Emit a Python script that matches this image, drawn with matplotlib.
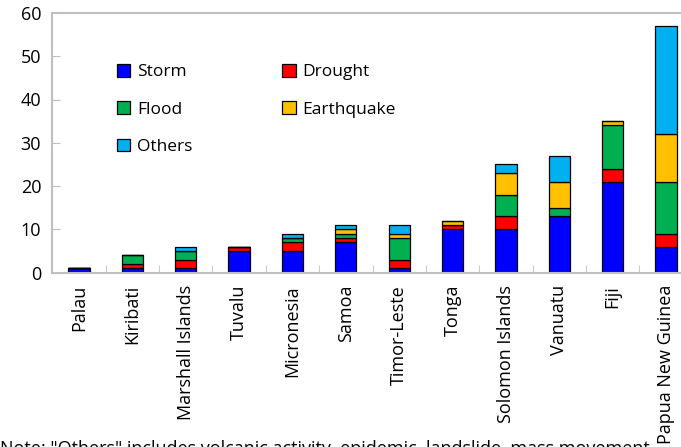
import matplotlib
matplotlib.use("Agg")
import matplotlib.pyplot as plt
import numpy as np

plt.rcParams['font.family'] = ['Open Sans', 'DejaVu Sans']

countries = ["Palau", "Kiribati", "Marshall Islands", "Tuvalu", "Micronesia", "Samoa",
             "Timor-Leste", "Tonga", "Solomon Islands", "Vanuatu", "Fiji", "Papua New Guinea"]
storm      = [1, 1, 1, 5, 5, 7, 1, 10, 10, 13, 21, 6]
drought    = [0, 1, 2, 1, 2, 1, 2, 1, 3, 0, 3, 3]
flood      = [0, 2, 2, 0, 1, 1, 5, 0, 5, 2, 10, 12]
earthquake = [0, 0, 0, 0, 0, 1, 1, 1, 5, 6, 1, 11]
others     = [0, 0, 1, 0, 1, 1, 2, 0, 2, 6, 0, 25]
yticks = [0, 10, 20, 30, 40, 50, 60]
note = 'Note: "Others" includes volcanic activity, epidemic, landslide, mass movement.'

series = [("Storm", storm, "#0000FF"), ("Drought", drought, "#FF0000"),
          ("Flood", flood, "#00B050"), ("Earthquake", earthquake, "#FFC000"),
          ("Others", others, "#00B0F0")]

fig = plt.figure(figsize=(6.81, 4.47), dpi=100)
W, H = 681, 447
left, right, top, bottom = 52.3, 692.7, 13, 272.5
ax = fig.add_axes([left / W, 1 - bottom / H, (right - left) / W, (bottom - top) / H])

x = np.arange(len(countries))
base = np.zeros(len(countries))
handles = {}
for name, vals, col in series:
    v = np.array(vals, dtype=float)
    b = ax.bar(x, v, 0.4, bottom=base, color=col, edgecolor="black", linewidth=0.9, label=name)
    handles[name] = b
    base += v

ax.set_xlim(-0.5, len(countries) - 0.5)
ax.set_ylim(0, 60)
ax.set_yticks(yticks)
ax.set_xticks(x)
ax.set_xticklabels(countries, rotation=90, fontsize=13)
ax.tick_params(axis='x', length=0, pad=9)
ax.set_xticks(np.arange(len(countries) + 1) - 0.5, minor=True)
ax.tick_params(axis='x', which='minor', direction='in', length=6, color='#BFBFBF')
ax.tick_params(axis='y', direction='in', length=6, color='#BFBFBF', labelsize=13, pad=8)
for s in ['left', 'bottom', 'top']:
    ax.spines[s].set_color('#BFBFBF')
    ax.spines[s].set_linewidth(1.5)
ax.spines['right'].set_visible(False)

order = ["Storm", "Flood", "Others", "Drought", "Earthquake"]
leg = ax.legend([handles[n] for n in order], order, ncol=2, frameon=False,
                loc='upper left', bbox_to_anchor=(0.09, 0.83), fontsize=12.5,
                handlelength=0.75, handleheight=0.75, handletextpad=0.4,
                labelspacing=1.2, columnspacing=5.2, borderaxespad=0)

fig.text(0.0, 1 - 439.5 / H, note, fontsize=13, va='top', ha='left')

fig.savefig("out.png", dpi=100)
